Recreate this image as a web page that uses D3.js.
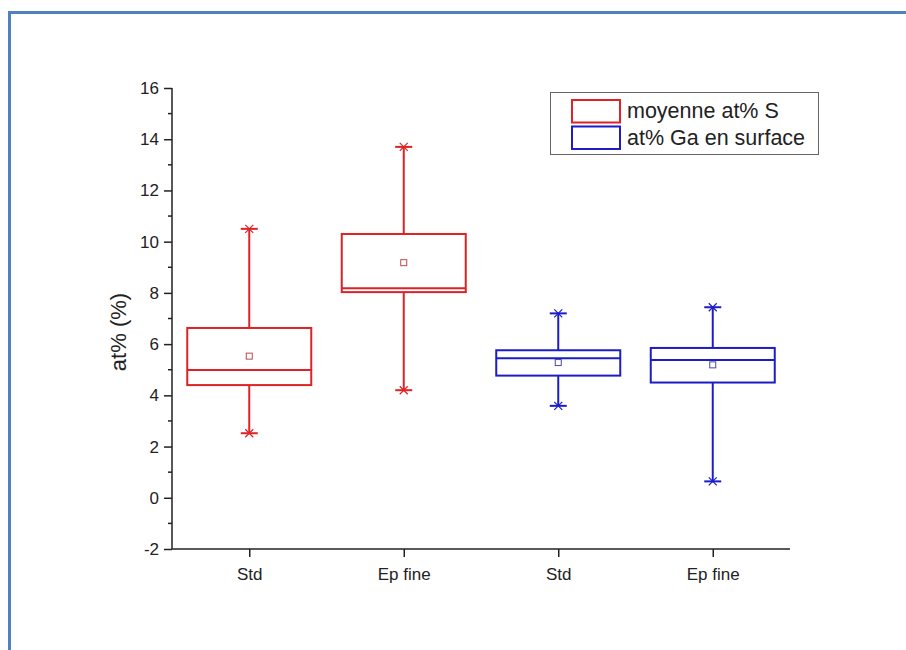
<!DOCTYPE html>
<html><head><meta charset="utf-8">
<script src="https://cdn.jsdelivr.net/npm/d3@7"></script>
<style>body{margin:0;background:#fff}svg{display:block}text{font-family:"Liberation Sans",Arial,sans-serif}</style>
</head><body><svg id="c" width="906" height="650"></svg>
<script>
const categories = ["Std", "Ep fine", "Std", "Ep fine"];
const seriesNames = ["moyenne at% S", "at% Ga en surface"];
const seriesOf = [0, 0, 1, 1];
const whiskerLow  = [2.52, 4.2, 3.59, 0.64];
const q1          = [4.4, 8.03, 4.77, 4.5];
const median      = [4.99, 8.18, 5.45, 5.38];
const q3          = [6.63, 10.3, 5.76, 5.85];
const whiskerHigh = [10.5, 13.7, 7.2, 7.44];
const meanVal     = [5.53, 9.18, 5.28, 5.19];
const yTicks = [-2, 0, 2, 4, 6, 8, 10, 12, 14, 16];
const colors = ["#dd2326", "#1c1cc8"];

const svg = d3.select("#c");
// frame
svg.append("rect").attr("x", 9.5).attr("y", 12.5).attr("width", 920).attr("height", 660)
  .attr("fill", "none").attr("stroke", "#4f81bd").attr("stroke-width", 3);

const x = d3.scaleLinear().domain([0.5, 4.5]).range([172, 790]);
const y = d3.scaleLinear().domain([-2, 16]).range([549, 88]);

// y axis
const yAxis = d3.axisLeft(y).tickValues(yTicks).tickSize(8).tickPadding(5).tickFormat(d => String(d));
const gy = svg.append("g").attr("transform", "translate(172,0)").call(yAxis);
gy.select(".domain").attr("d", `M0,${y(16)}V${y(-2)}`).attr("stroke", "#222").attr("stroke-width", 1.5);
gy.selectAll(".tick line").attr("stroke", "#222").attr("stroke-width", 1.5);
gy.selectAll(".tick text").attr("font-size", 17).attr("fill", "#222").style("font-family", "Liberation Sans, Arial, sans-serif");
// minor ticks
const minor = d3.range(-1, 16, 2);
svg.append("g").selectAll("line").data(minor).join("line")
  .attr("x1", 168).attr("x2", 172).attr("y1", d => y(d)).attr("y2", d => y(d))
  .attr("stroke", "#222").attr("stroke-width", 1.5);

// x axis
const xAxis = d3.axisBottom(x).tickValues([1, 2, 3, 4]).tickSize(8).tickPadding(11)
  .tickFormat((d, i) => categories[i]);
const gx = svg.append("g").attr("transform", `translate(0,${y(-2)})`).call(xAxis);
gx.select(".domain").attr("d", `M172,0H790`).attr("stroke", "#222").attr("stroke-width", 1.5);
gx.selectAll(".tick line").attr("stroke", "#222").attr("stroke-width", 1.5);
gx.selectAll(".tick text").attr("font-size", 17).attr("fill", "#222").style("font-family", "Liberation Sans, Arial, sans-serif");

// y title
svg.append("text").attr("transform", `translate(126,332) rotate(-90)`)
  .attr("text-anchor", "middle").attr("font-size", 22).attr("fill", "#222").text("at% (%)");

// boxes
const bw = 124, capW = 17;
const idx = d3.range(categories.length);
const g = svg.append("g");
idx.forEach(i => {
  const cx = x(i + 1), c = colors[seriesOf[i]];
  const bg = g.append("g").attr("stroke", c).attr("fill", "none").attr("stroke-width", 2);
  bg.append("line").attr("x1", cx).attr("x2", cx).attr("y1", y(whiskerHigh[i])).attr("y2", y(q3[i]));
  bg.append("line").attr("x1", cx).attr("x2", cx).attr("y1", y(q1[i])).attr("y2", y(whiskerLow[i]));
  bg.append("rect").attr("x", cx - bw / 2).attr("y", y(q3[i])).attr("width", bw).attr("height", y(q1[i]) - y(q3[i]));
  bg.append("line").attr("x1", cx - bw / 2).attr("x2", cx + bw / 2).attr("y1", y(median[i])).attr("y2", y(median[i]));
  [whiskerHigh[i], whiskerLow[i]].forEach(v => {
    const yy = y(v);
    bg.append("line").attr("x1", cx - capW / 2).attr("x2", cx + capW / 2).attr("y1", yy).attr("y2", yy);
    bg.append("path").attr("stroke-width", 1.2).attr("d", `M${cx-4},${yy-4}L${cx+4},${yy+4}M${cx-4},${yy+4}L${cx+4},${yy-4}`);
  });
  bg.append("rect").attr("x", cx - 3).attr("y", y(meanVal[i]) - 3).attr("width", 6).attr("height", 6)
    .attr("stroke-width", 1).attr("stroke", d3.interpolateRgb(c, "#888")(0.4));
});

// legend
const lg = svg.append("g");
lg.append("rect").attr("x", 550.5).attr("y", 92.5).attr("width", 268).attr("height", 62)
  .attr("fill", "#fff").attr("stroke", "#666").attr("stroke-width", 1);
seriesNames.forEach((n, k) => {
  lg.append("rect").attr("x", 572).attr("y", 100 + k * 26.5).attr("width", 48).attr("height", 22.5)
    .attr("fill", "none").attr("stroke", colors[k]).attr("stroke-width", 2);
  lg.append("text").attr("x", 627).attr("y", 118 + k * 27).attr("font-size", 21.5).attr("fill", "#222").text(n);
});
</script></body></html>
